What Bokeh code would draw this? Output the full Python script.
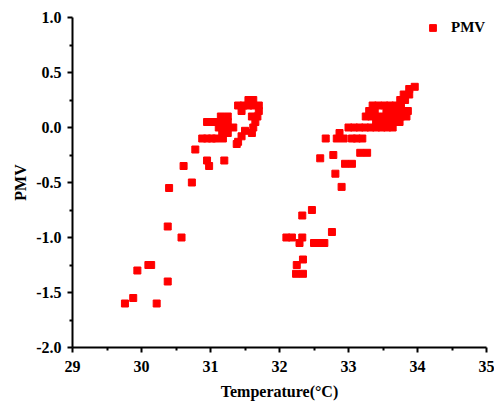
from bokeh.plotting import figure
from bokeh.models import Range1d, FixedTicker, Legend, LegendItem, ColumnDataSource
from bokeh.embed import file_html
from bokeh.resources import INLINE

# ---- data ----
series_name = "PMV"

# first group (lower temperatures)
c1_temp = [29.76, 29.88, 29.94, 30.10, 30.14, 30.22, 30.38, 30.38, 30.58, 30.40,
           30.73, 30.61, 30.78, 30.95, 30.98, 31.20,
           30.88, 30.95, 31.02, 31.08, 31.18,
           30.95, 31.02, 31.10, 31.17, 31.25,
           31.12, 31.17, 31.25, 31.33,
           31.17, 31.25,
           31.15, 31.25,
           31.40, 31.48, 31.55, 31.62, 31.70,
           31.55, 31.62,
           31.45, 31.70,
           31.60, 31.68,
           31.65,
           31.62, 31.50,
           31.45, 31.60,
           31.40, 31.38]
c1_pmv = [-1.60, -1.55, -1.30, -1.25, -1.25, -1.60, -1.40, -0.90, -1.00, -0.55,
          -0.50, -0.35, -0.20, -0.30, -0.35, -0.30,
          -0.10, -0.10, -0.10, -0.10, -0.10,
          0.05, 0.05, 0.05, 0.05, 0.05,
          0.00, 0.00, 0.00, 0.00,
          -0.05, -0.05,
          0.10, 0.10,
          0.20, 0.20, 0.20, 0.20, 0.20,
          0.25, 0.25,
          0.15, 0.15,
          0.10, 0.10,
          0.05,
          0.00, -0.03,
          -0.08, -0.05,
          -0.13, -0.15]

# second group (higher temperatures)
c2_temp = [32.81, 32.47, 32.33, 32.76, 32.10, 32.18, 32.33, 32.29, 32.50, 32.58,
           32.65, 32.34, 32.25, 32.24, 32.34,
           32.59, 32.78, 32.95, 33.05, 32.90, 33.17, 33.27,
           32.67, 32.83, 32.93, 33.05, 33.12, 33.20, 32.87,
           33.00, 33.08, 33.16, 33.24, 33.32, 33.40, 33.48, 33.56, 33.64,
           33.40, 33.50, 33.58, 33.66, 33.74,
           33.25, 33.33, 33.42, 33.52, 33.60, 33.68, 33.76, 33.84,
           33.30, 33.38, 33.55, 33.62, 33.70, 33.78, 33.86,
           33.35, 33.43, 33.52, 33.60, 33.68, 33.76,
           33.75, 33.82,
           33.80, 33.88,
           33.88, 33.96]
c2_pmv = [-0.42, -0.75, -0.80, -0.95, -1.00, -1.00, -1.00, -1.05, -1.05, -1.05,
          -1.05, -1.20, -1.25, -1.33, -1.33,
          -0.28, -0.25, -0.33, -0.33, -0.54, -0.23, -0.23,
          -0.10, -0.10, -0.10, -0.10, -0.10, -0.10, -0.05,
          0.00, 0.00, 0.00, 0.00, 0.00, 0.00, 0.00, 0.00, 0.00,
          0.05, 0.05, 0.05, 0.05, 0.05,
          0.10, 0.10, 0.10, 0.10, 0.10, 0.10, 0.10, 0.10,
          0.15, 0.15, 0.15, 0.15, 0.15, 0.15, 0.15,
          0.20, 0.20, 0.20, 0.20, 0.20, 0.20,
          0.25, 0.25,
          0.30, 0.30,
          0.35, 0.37]

x_ticks = [29, 30, 31, 32, 33, 34, 35]
x_tick_labels = ["29", "30", "31", "32", "33", "34", "35"]
x_minor = [29.5, 30.5, 31.5, 32.5, 33.5, 34.5]
y_ticks = [-2.0, -1.5, -1.0, -0.5, 0.0, 0.5, 1.0]
y_tick_labels = ["-2.0", "-1.5", "-1.0", "-0.5", "0.0", "0.5", "1.0"]
y_minor = [-1.75, -1.25, -0.75, -0.25, 0.25, 0.75]
x_title = "Temperature(\u00b0C)"
y_title = "PMV"

FONT = "Liberation Serif"

src = ColumnDataSource(data=dict(t=c1_temp + c2_temp, p=c1_pmv + c2_pmv))

p = figure(width=494, height=405, output_backend="svg", toolbar_location=None,
           x_range=Range1d(29, 35), y_range=Range1d(-2, 1),
           min_border_left=72, min_border_right=8, min_border_top=17, min_border_bottom=58)
p.outline_line_color = None
p.xgrid.visible = False
p.ygrid.visible = False
p.background_fill_color = "white"
p.border_fill_color = "white"

r = p.scatter(x="t", y="p", source=src, marker="square", size=7,
              fill_color="#ff0000", line_color="#ff0000")

p.xaxis.ticker = FixedTicker(ticks=x_ticks, minor_ticks=x_minor)
p.yaxis.ticker = FixedTicker(ticks=y_ticks, minor_ticks=y_minor)
p.xaxis.major_label_overrides = {t: l for t, l in zip(x_ticks, x_tick_labels)}
p.yaxis.major_label_overrides = {t: l for t, l in zip(y_ticks, y_tick_labels)}

for ax in (p.xaxis, p.yaxis):
    ax.axis_line_width = 2
    ax.axis_line_color = "black"
    ax.major_tick_line_width = 2
    ax.minor_tick_line_width = 2
    ax.major_tick_line_color = "black"
    ax.minor_tick_line_color = "black"
    ax.major_tick_in = 0
    ax.major_tick_out = 5
    ax.minor_tick_in = 0
    ax.minor_tick_out = 3
    ax.major_label_text_font = FONT
    ax.major_label_text_font_style = "bold"
    ax.major_label_text_font_size = "16px"
    ax.major_label_text_color = "black"
    ax.axis_label_text_font = FONT
    ax.axis_label_text_font_style = "bold"
    ax.axis_label_text_font_size = "16px"
    ax.axis_label_text_color = "black"

p.xaxis.axis_label = x_title
p.yaxis.axis_label = y_title
p.xaxis.major_label_standoff = 8
p.yaxis.major_label_standoff = 6
p.xaxis.axis_label_standoff = 8
p.yaxis.axis_label_standoff = 4

legend = Legend(items=[LegendItem(label=series_name, renderers=[r])],
                location=(352, 311), orientation="vertical",
                glyph_width=17, glyph_height=17, label_standoff=10,
                padding=0, margin=0, spacing=0,
                border_line_color=None, background_fill_alpha=0,
                label_text_font=FONT, label_text_font_style="bold",
                label_text_font_size="15px", label_text_color="black")
p.add_layout(legend)

open("out.html", "w").write(file_html(p, INLINE))
